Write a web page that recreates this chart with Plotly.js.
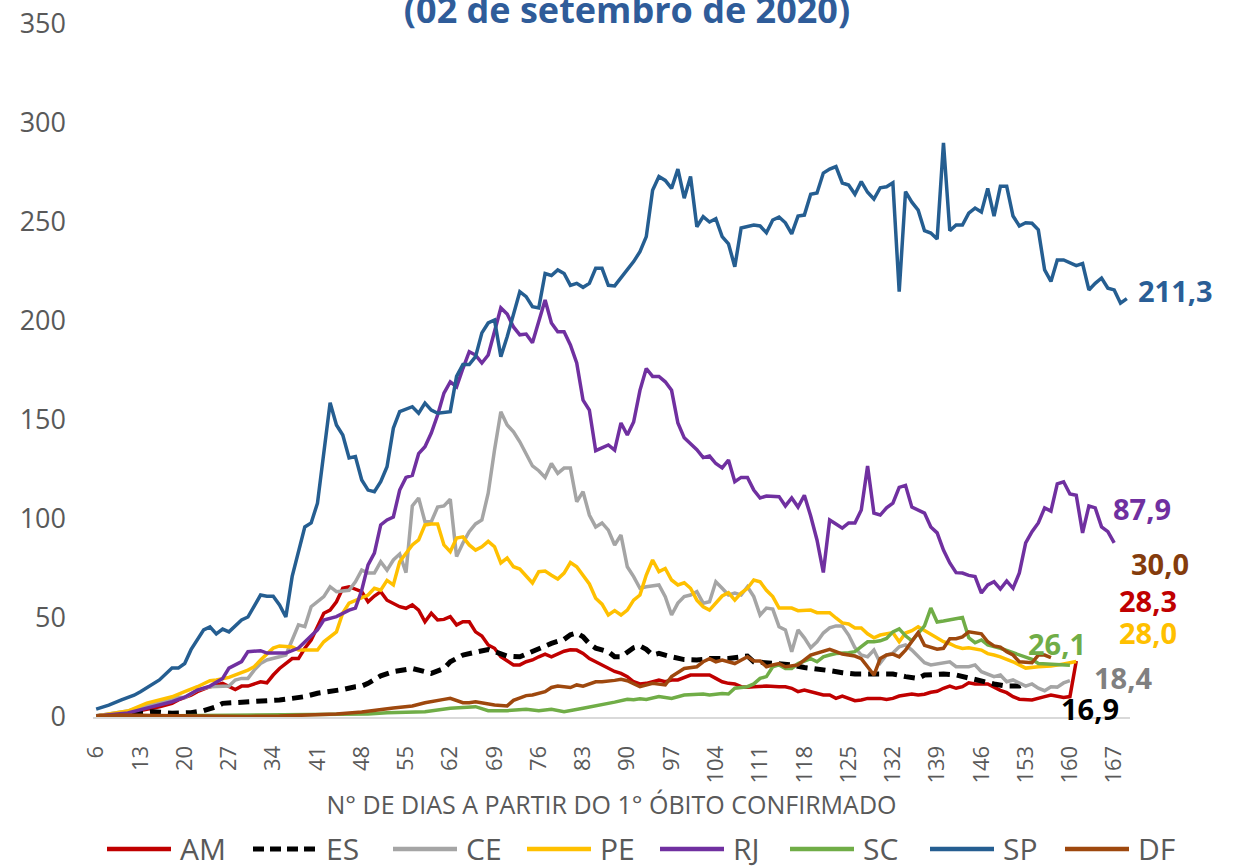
<!DOCTYPE html>
<html>
<head>
<meta charset="utf-8">
<script src="https://cdn.plot.ly/plotly-3.0.1.min.js"></script>
<style>
html,body{margin:0;padding:0;background:#fff;}
#chart{width:1244px;height:868px;}
</style>
</head>
<body>
<div id="chart"></div>
<script>
// ---- DATA: [day since 1st death, value] ----
const AM = [[6,0.5],[12,2.7],[16,5.2],[18,6.9],[19,8.6],[21,11],[22,12.8],[24,15.3],[26,17],[27,15.3],[28,13.9],[29,15.6],[30,15.6],[32,17.8],[33,17.3],[34,21.2],[35,24.5],[37,29.5],[38,29.5],[39,34.7],[40,38.9],[41,45.6],[42,52.4],[43,54],[44,58.2],[45,65],[46,65.8],[48,63.3],[49,58.2],[50,61.1],[51,63.3],[52,59],[53,57.4],[54,55.7],[55,54.9],[56,56.6],[57,54],[58,48.1],[59,52.4],[60,49],[61,49.3],[62,50.7],[63,46.5],[64,48.1],[65,48.1],[66,43],[67,40.9],[68,36.4],[69,34.7],[70,30.4],[72,26.3],[73,26.3],[74,27.9],[75,28.8],[76,30.4],[77,31.8],[78,30.4],[80,33.2],[81,34],[82,33.8],[83,32.1],[84,29.5],[85,27.9],[86,26.3],[88,23],[89,22],[90,20.4],[91,17.8],[92,16.7],[93,17],[95,18.7],[96,17.8],[97,18.7],[98,18.7],[100,21.2],[102,21.2],[103,21.2],[104,19.5],[105,17.8],[106,17],[107,16.7],[108,15.3],[109,15],[110,15.3],[112,15.6],[114,15.3],[115,15.3],[116,14.5],[117,12.8],[118,13.6],[119,12.8],[121,11.1],[122,11.1],[123,9.4],[124,10.6],[125,9.4],[126,8.2],[127,8.6],[128,9.4],[130,9.4],[131,8.9],[132,9.4],[133,10.6],[134,11.1],[135,11.6],[136,11.1],[137,11.5],[138,12.5],[139,13],[140,14.5],[141,15.6],[142,14.5],[143,15.3],[144,17.3],[145,16.7],[147,16.7],[148,15],[149,13.5],[150,12.3],[151,10.3],[152,9],[153,8.6],[154,8.6],[156,10.3],[157,11.1],[159,9.9],[160,10.3],[161,28.3]];
const ES = [[6,0.3],[11,1.9],[15,2.7],[18,1.9],[21,2.2],[23,3.2],[25,5.2],[26,6.9],[28,7.2],[30,7.7],[33,7.7],[35,8.6],[37,9.4],[39,10.3],[41,12],[43,12.8],[45,13.9],[47,15.3],[48,15.6],[49,17],[51,20.8],[53,22.9],[55,23.7],[56,24.5],[58,22.9],[59,22],[61,24.5],[62,27.9],[64,31.3],[66,32.5],[68,34.1],[69,33],[71,30.8],[73,30.4],[74,31.8],[76,34.2],[78,37.2],[80,39.2],[81,41.5],[82,42.4],[83,40.5],[84,37],[85,34.8],[87,33],[88,30.4],[89,30.4],[90,33],[91,35],[92,35.9],[93,34.2],[94,31.3],[95,32.1],[97,30.4],[99,29],[101,28.8],[103,29.5],[106,29.5],[108,30],[109,30.8],[110,27.9],[113,27.4],[114,27],[116,26.3],[118,25],[120,24.5],[122,23.4],[124,22.4],[126,21.7],[128,21.7],[130,22],[132,21.7],[134,20.4],[136,19.5],[137,21.2],[140,21.7],[142,21.2],[144,19.5],[146,17.8],[148,16.7],[150,15.6],[152,15.6],[153,16.9]];
const CE = [[6,0.5],[11,3],[13,5],[16,7.7],[19,10],[20,9.8],[22,13.6],[24,15.3],[27,15.6],[28,18.7],[29,19.5],[30,19.5],[31,23.7],[32,27],[33,28.8],[35,30.4],[36,31.3],[37,38.9],[38,46.5],[39,45.6],[40,55.7],[42,60.8],[43,65.8],[44,63.3],[46,64],[47,68.3],[48,74.2],[49,72.7],[50,72.7],[51,78.4],[52,74.2],[53,79.3],[54,82.3],[55,72.9],[56,106.6],[57,110.6],[58,98.6],[59,98.6],[60,106],[61,106.6],[62,110],[63,81],[64,87.9],[65,93.6],[66,97.5],[67,99.5],[68,113],[69,134.8],[70,154.2],[71,147.5],[72,144],[73,139],[74,133],[75,126.8],[76,124.4],[77,121],[78,128],[79,123],[80,125.7],[81,125.7],[82,108.7],[83,113.8],[84,102],[85,96],[86,98],[87,94.4],[88,86.9],[89,91.9],[90,75.9],[91,70.9],[92,65],[93,65.8],[95,66.7],[96,60.8],[97,51.5],[98,57.5],[99,60.8],[100,61.6],[101,63.3],[102,57.5],[103,58.2],[104,68.3],[105,65],[106,61.6],[107,62.6],[108,61.6],[109,65.8],[110,60.8],[111,51.5],[112,55],[113,54.5],[114,45.6],[115,44],[116,33],[117,44],[118,40],[119,35],[120,38],[121,42.4],[122,45],[123,46],[124,46],[125,41.4],[126,35],[127,31.3],[128,30.4],[129,33.8],[130,27.3],[131,31.3],[132,32.3],[133,35.5],[134,36.4],[135,33.8],[136,30.4],[137,27.4],[138,26.3],[139,26.8],[140,27.4],[141,27.9],[142,25.4],[144,25.4],[145,26.3],[146,22.9],[148,20.4],[149,21.2],[150,17.8],[151,18.7],[153,15.6],[154,16.7],[155,14.6],[156,13.3],[157,15.3],[158,15.1],[159,17.2],[160,18.4]];
const PE = [[6,0.5],[11,3],[14,7],[16,8.6],[18,10.2],[20,12.8],[22,15.3],[24,18.3],[25,18.7],[27,20],[28,21.2],[30,23.7],[31,25.4],[32,28.8],[34,34.8],[35,35.9],[37,35.4],[38,33.8],[41,33.8],[42,38],[44,43],[45,52.5],[46,57.5],[47,59],[49,61.6],[50,65],[51,64],[52,69],[53,66.7],[54,78.4],[55,82.8],[56,86.9],[57,89.4],[58,97],[59,97.5],[60,97.5],[61,86.9],[62,83.5],[63,90.4],[64,91],[65,86.9],[66,84.3],[67,86],[68,88.7],[69,86],[70,77.8],[71,80.3],[72,75.9],[73,74.7],[74,70.9],[75,67.7],[76,73.4],[77,73.7],[78,71.6],[79,69.7],[80,72.7],[81,78],[82,75.9],[83,71.7],[84,67.2],[85,60],[86,57],[87,51.5],[88,53.7],[89,51.5],[90,54],[91,59],[92,61.6],[93,71.7],[94,79.3],[95,73.4],[96,75],[97,69.2],[98,66.7],[99,67.8],[100,65],[101,59],[102,55.7],[103,54],[104,57.7],[105,61.1],[106,62.8],[107,59],[108,62.6],[109,65],[110,69.2],[111,68.3],[112,64],[113,60.8],[114,55],[116,55],[117,53.7],[119,54],[120,52.7],[122,52.7],[123,50],[124,47.5],[125,47],[126,45],[127,45],[128,42],[129,40],[130,41.4],[132,42.6],[133,38],[134,42.4],[135,43.6],[136,45.6],[137,43.6],[138,42],[139,40],[140,38],[141,37],[142,35.5],[143,34.6],[144,35],[146,33.8],[147,32],[148,31.3],[149,30.4],[151,27.9],[153,24.7],[155,25.4],[157,25.7],[159,26.8],[160,27.4],[161,28]];
const RJ = [[6,0.5],[11,2],[14,4.5],[18,7.7],[20,10],[21,12],[22,13.6],[24,15.6],[26,19.5],[27,24.7],[29,28],[30,33],[32,33.5],[33,32.3],[36,32.3],[38,34.8],[39,38],[41,44],[42,49],[44,50.7],[46,54],[47,55],[48,64],[49,76.8],[50,82.8],[51,97],[52,99.5],[53,101],[54,114.6],[55,121],[56,122],[57,133],[58,136.5],[59,143.4],[60,152.5],[61,163.6],[62,169.3],[63,166.8],[64,176],[65,184.5],[66,182.8],[67,178.8],[68,182.8],[70,206.6],[71,203.5],[72,197],[73,193],[74,193.4],[75,189],[77,210.6],[78,199],[79,194.6],[80,194.6],[81,187.9],[82,178.8],[83,160],[84,155],[85,134.5],[87,137.4],[88,134.8],[89,148.5],[90,142.4],[91,149],[92,165],[93,176],[94,172],[95,172],[96,169.3],[97,165],[98,148.5],[99,141],[100,138],[101,135],[102,131],[103,131.8],[104,128],[105,125.8],[106,129.8],[107,118.8],[108,121],[109,121],[110,114.6],[111,110.6],[112,111.6],[113,111.5],[114,111.3],[115,106.6],[116,110.6],[117,106],[118,112],[119,101.5],[120,89.4],[121,73],[122,99.5],[123,97.5],[124,95.4],[125,98],[126,98],[127,104.5],[128,126.8],[129,103],[130,102],[131,105.6],[132,108],[133,116],[134,117],[135,106],[136,104.5],[137,103],[138,96],[139,93],[140,84.3],[141,77.8],[142,72.9],[143,72.7],[144,71.5],[145,70.9],[146,62.6],[147,66.7],[148,68.3],[149,64.6],[150,68.7],[151,65],[152,72.8],[153,87.9],[154,93.6],[155,98],[156,105.6],[157,104],[158,117.7],[159,118.8],[160,112.6],[161,112],[162,93],[163,106.6],[164,105.6],[165,96],[166,93.6],[167,87.9]];
const SC = [[6,0.3],[20,0.8],[40,1.2],[45,1.5],[49,1.5],[52,2.2],[58,2.7],[62,4.4],[66,5.2],[68,3.2],[71,3.2],[74,3.9],[76,3.2],[78,3.9],[80,2.7],[83,4.4],[85,5.5],[87,6.9],[88,7.5],[90,9],[91,8.7],[92,9.2],[93,8.9],[95,10.3],[97,9.4],[99,11.1],[102,11.6],[103,11.1],[105,11.9],[106,11.6],[107,14.5],[109,15.3],[110,16.7],[111,19.5],[112,20.4],[113,25.4],[114,26.3],[115,24.5],[116,24.5],[117,27],[119,29.5],[120,27.9],[121,30.4],[122,31.3],[123,32.1],[125,32.5],[126,33],[127,35.5],[128,38],[129,38],[130,38.5],[131,39.7],[132,43],[133,44.5],[134,41],[135,38.5],[136,42],[137,46],[138,55],[139,48],[140,48.5],[141,49],[142,49.6],[143,50.3],[144,40],[145,37.5],[146,38.9],[147,36.4],[149,34.7],[150,33.5],[152,31.3],[154,29.1],[155,27],[157,26.8],[158,26.3],[160,26.1]];
const SP = [[6,4],[8,6],[10,8.6],[12,11],[13,12.8],[16,18.7],[18,24.7],[19,24.7],[20,27],[21,34],[23,44],[24,45.5],[25,42],[26,44.4],[27,43],[29,49],[30,50.5],[32,61.6],[33,61],[34,61],[35,56.6],[36,50.5],[37,71],[39,96],[40,98],[41,108],[43,158.7],[44,147.5],[45,142.4],[46,130.8],[47,131.5],[48,119.7],[49,114.6],[50,113.8],[51,118.8],[52,126.4],[53,145.9],[54,154.2],[56,156.7],[57,153.4],[58,158.5],[59,155],[60,153.4],[62,154.2],[63,172],[64,178],[65,178],[66,182],[67,194],[68,199],[69,200.5],[70,182],[71,192],[73,214.8],[74,212.3],[75,207.2],[76,206.6],[77,224],[78,223],[79,225.8],[80,224],[81,218],[82,219],[83,217],[84,219],[85,226.6],[86,226.6],[87,218],[88,217.7],[89,221.7],[90,225.8],[91,230],[92,235],[93,242.6],[94,266],[95,273],[96,271],[97,267],[98,276.7],[99,262],[100,273],[101,247.6],[102,252.7],[103,250],[104,251.7],[105,242.6],[106,239],[107,227.4],[108,247],[109,247.6],[110,248.5],[111,248],[112,244.6],[113,251],[114,252.5],[115,249.6],[116,244],[117,253],[118,253.5],[119,264],[120,264.6],[121,274.7],[122,276.7],[123,278],[124,269.7],[125,268.7],[126,264],[127,270.4],[128,265],[129,261.6],[130,267.3],[131,267.8],[132,269.8],[133,214.8],[134,265.3],[135,260],[136,256],[137,245.6],[138,244.4],[139,241.4],[140,290],[141,245.6],[142,248.5],[143,248.5],[144,254.5],[145,257],[146,255],[147,267],[148,253],[149,268],[150,268],[151,253],[152,248],[153,249.6],[154,249.4],[155,246],[156,225.8],[157,220],[158,230.8],[159,230.8],[161,228],[162,229],[163,215.7],[164,219],[165,221.7],[166,216.6],[167,215.7],[168,209],[169,211.3]];
const DF = [[6,0.5],[10,1],[15,0.8],[20,0.5],[25,0.2],[30,0.3],[35,0.5],[40,1],[44,1.5],[48,2.5],[50,3.5],[53,4.6],[56,5.6],[58,7.2],[61,8.9],[62,9.4],[64,7.2],[65,7.2],[66,7.7],[68,6.6],[69,6.1],[71,5.6],[72,8.4],[74,10.8],[75,11.1],[77,12.8],[78,14.9],[79,15.6],[81,14.9],[82,16.2],[83,15.6],[85,17.8],[86,17.8],[88,18.5],[89,19],[90,18.3],[91,17],[92,15.3],[94,17],[96,16.2],[97,20.4],[99,24.5],[101,25.4],[102,27.9],[103,29.5],[104,27.9],[105,28.8],[107,27],[109,30.4],[110,28.3],[111,28.3],[112,25.4],[113,26.3],[114,27],[115,25.4],[117,26.3],[119,31.3],[121,33],[122,34.2],[123,33],[124,31.8],[126,30.8],[127,29.5],[128,25.4],[129,21.2],[130,29.5],[131,31.3],[132,31.8],[133,30.4],[134,33.8],[135,38],[136,42.6],[137,36.2],[138,35],[139,34.2],[140,34.7],[141,39.5],[142,39.5],[143,40.5],[144,43],[146,42],[147,38],[148,35.9],[149,35.3],[150,33],[151,31.3],[152,27.9],[154,27.4],[155,31.3],[156,31.3],[157,30]];

const seriesNames = ['AM','ES','CE','PE','RJ','SC','SP','DF'];
const seriesData  = [AM, ES, CE, PE, RJ, SC, SP, DF];
const endLabels   = ['28,3','16,9','18,4','28,0','87,9','26,1','211,3','30,0'];
const tickDays    = [6,13,20,27,34,41,48,55,62,69,76,83,90,97,104,111,118,125,132,139,146,153,160,167];
const yTicks      = [0,50,100,150,200,250,300,350];

// ---- STYLE ----
const lineColors  = ['#C00000','#000000','#A5A5A5','#FFC000','#7030A0','#70AD47','#255E91','#9E480E'];
const labelColors = ['#C00000','#000000','#808080','#FFC000','#7030A0','#70AD47','#2A5E96','#843C0C'];
// label placement in page pixels: left edge, vertical middle
const labelPx = [[1118,600],[1060,708],[1093,677],[1118,632],[1112,508],[1027,643],[1137,290],[1130,563]];

const FONT = '"Open Sans", "Segoe UI", Arial, sans-serif';
const M = {l:93, r:114, t:24, b:151};
const W = 1244, H = 868;
const plotW = W - M.l - M.r, plotH = H - M.t - M.b;
const px2paperX = px => (px - M.l) / plotW;
const py2paperY = py => (H - M.b - py) / plotH;

const traces = seriesNames.map((name, i) => ({
  type: 'scatter', mode: 'lines', name: name,
  x: seriesData[i].map(p => p[0]),
  y: seriesData[i].map(p => p[1]),
  line: name === 'ES'
    ? {color: lineColors[i], width: 5, dash: '11px,7px'}
    : {color: lineColors[i], width: 3.5},
  hoverinfo: 'skip', showlegend: false
}));

const annotations = seriesNames.map((name, i) => ({
  xref: 'paper', yref: 'paper',
  x: px2paperX(labelPx[i][0]), y: py2paperY(labelPx[i][1]),
  xanchor: 'left', yanchor: 'middle', showarrow: false, borderpad: 0,
  text: '<b>' + endLabels[i] + '</b>',
  font: {family: FONT, size: 29, color: labelColors[i]}
}));

// custom legend (long line samples like the original)
const legendLineStart = [107, 253, 393, 527, 660, 790, 930, 1065];
const legendY = 848;
const shapes = [];
seriesNames.forEach((name, i) => {
  const x0 = legendLineStart[i];
  shapes.push({
    type: 'line', xref: 'paper', yref: 'paper',
    x0: px2paperX(x0), x1: px2paperX(x0 + 64),
    y0: py2paperY(legendY + 1), y1: py2paperY(legendY + 1),
    line: name === 'ES'
      ? {color: lineColors[i], width: 5, dash: '11px,6px'}
      : {color: lineColors[i], width: 4.5}
  });
  annotations.push({
    xref: 'paper', yref: 'paper',
    x: px2paperX(x0 + 72), y: py2paperY(legendY),
    xanchor: 'left', yanchor: 'middle', showarrow: false, borderpad: 0,
    text: name, font: {family: FONT, size: 30, color: '#595959'}
  });
});

const layout = {
  width: W, height: H,
  margin: {l: M.l, r: M.r, t: M.t, b: M.b, pad: 0},
  paper_bgcolor: '#ffffff', plot_bgcolor: '#ffffff',
  showlegend: false,
  title: {
    text: '<b>(02 de setembro de 2020)</b>',
    font: {family: FONT, size: 36, color: '#2F5C99'},
    x: 0.504, xref: 'container', xanchor: 'center',
    y: 1 - 10/868, yref: 'container', yanchor: 'middle'
  },
  xaxis: {
    range: [5.5, 169.5], tickmode: 'array', tickvals: tickDays,
    ticktext: tickDays.map(String), tickangle: -90,
    tickfont: {family: FONT, size: 22, color: '#595959'},
    ticks: '', showgrid: false, zeroline: false,
    showline: true, linecolor: '#D9D9D9', linewidth: 2,
    ticklabelstandoff: 18,
    title: {text: 'N° DE DIAS A PARTIR DO 1° ÓBITO CONFIRMADO',
            font: {family: FONT, size: 25, color: '#595959'}, standoff: 14},
    automargin: false
  },
  yaxis: {
    range: [0, 350], tickmode: 'array', tickvals: yTicks,
    ticktext: yTicks.map(String),
    tickfont: {family: FONT, size: 27, color: '#595959'},
    ticks: '', showgrid: false, zeroline: false, showline: false,
    ticklabelstandoff: 26, automargin: false
  },
  annotations: annotations,
  shapes: shapes
};

Plotly.newPlot('chart', traces, layout, {staticPlot: true, displayModeBar: false});
</script>
</body>
</html>
